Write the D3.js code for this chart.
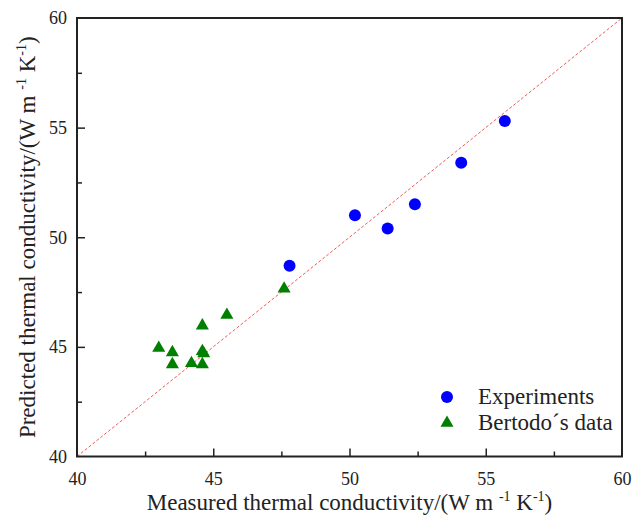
<!DOCTYPE html>
<html><head><meta charset="utf-8">
<script src="https://cdn.jsdelivr.net/npm/d3@7"></script>
<style>body{margin:0;background:#fff}svg{display:block}</style>
</head><body>
<script>
const expX = [47.8, 50.2, 51.4, 52.4, 54.1, 55.7];
const expY = [48.7, 51.0, 50.4, 51.5, 53.4, 55.3];
const berX = [43.0, 43.5, 43.5, 44.2, 44.6, 44.6, 44.65, 44.6, 45.5, 47.6];
const berY = [44.95, 44.75, 44.2, 44.25, 44.2, 44.8, 44.7, 45.97, 46.45, 47.65];
const xTicks = [40, 45, 50, 55, 60];
const yTicks = [40, 45, 50, 55, 60];
const legendLabels = ["Experiments", "Bertodo\u00B4s data"];

const FF = "'Liberation Serif', 'Times New Roman', serif";
const W = 642, H = 516;
const m = {l: 77, t: 18, r: 20, b: 59.5};
const svg = d3.select("body").append("svg").attr("width", W).attr("height", H);
const x = d3.scaleLinear().domain([40, 60]).range([m.l, W - m.r]);
const y = d3.scaleLinear().domain([40, 60]).range([H - m.b, m.t]);

svg.append("line").attr("x1", x(40)).attr("y1", y(40)).attr("x2", x(60)).attr("y2", y(60))
  .attr("stroke", "#f25a5a").attr("stroke-width", 1).attr("stroke-dasharray", "3,2");

svg.append("rect").attr("x", x(40)).attr("y", y(60)).attr("width", x(60) - x(40)).attr("height", y(40) - y(60))
  .attr("fill", "none").attr("stroke", "#222").attr("stroke-width", 2);

const minor = d3.range(40, 60.01, 2.5);
const gx = svg.append("g").attr("transform", `translate(0,${y(40)})`)
  .call(d3.axisBottom(x).tickValues(minor).tickSize(-8).tickFormat(d => xTicks.includes(d) ? d : "").tickPadding(16));
gx.attr("font-family", null).attr("font-size", null);
gx.select(".domain").remove();
gx.selectAll(".tick line").attr("stroke", "#222").attr("stroke-width", 1.5)
  .attr("y2", d => xTicks.includes(d) ? -8 : -5);
gx.selectAll(".tick text").style("font-size", "18px").style("font-family", FF).attr("fill", "#222");
gx.selectAll(".tick").filter(d => d === 40 || d === 60).select("line").remove();

const gy = svg.append("g").attr("transform", `translate(${x(40)},0)`)
  .call(d3.axisLeft(y).tickValues(minor).tickSize(-8).tickFormat(d => yTicks.includes(d) ? d : "").tickPadding(10));
gy.attr("font-family", null).attr("font-size", null);
gy.select(".domain").remove();
gy.selectAll(".tick line").attr("stroke", "#222").attr("stroke-width", 1.5)
  .attr("x2", d => yTicks.includes(d) ? 8 : 5);
gy.selectAll(".tick text").style("font-size", "18px").style("font-family", FF).attr("fill", "#222");
gy.selectAll(".tick").filter(d => d === 40 || d === 60).select("line").remove();

svg.append("g").selectAll("circle").data(expX).join("circle")
  .attr("cx", d => x(d)).attr("cy", (d, i) => y(expY[i])).attr("r", 6).attr("fill", "#0000ff");
const tri = d3.symbol().type(d3.symbolTriangle).size(74);
svg.append("g").selectAll("path").data(berX).join("path")
  .attr("d", tri).attr("transform", (d, i) => `translate(${x(d)},${y(berY[i])})`).attr("fill", "#008000");

const lx = 447, ly = [397, 423];
svg.append("circle").attr("cx", lx).attr("cy", ly[0]).attr("r", 6).attr("fill", "#0000ff");
svg.append("path").attr("d", tri).attr("transform", `translate(${lx},${ly[1]})`).attr("fill", "#008000");
legendLabels.forEach((t, i) => svg.append("text").attr("x", 478).attr("y", ly[i] + 7)
  .style("font-size", "23px").style("font-family", FF).attr("fill", "#222").text(t));

function title(sel, main) {
  sel.append("tspan").text(main + "/(W m ");
  sel.append("tspan").attr("dy", -9).style("font-size", "14px").text("-1");
  sel.append("tspan").attr("dy", 9).text(" K");
  sel.append("tspan").attr("dy", -9).style("font-size", "14px").text("-1");
  sel.append("tspan").attr("dy", 9).text(")");
}
const xt = svg.append("text").attr("x", (x(40) + x(60)) / 2).attr("y", 510).attr("text-anchor", "middle")
  .style("font-size", "23px").style("font-family", FF).attr("fill", "#222");
title(xt, "Measured thermal conductivity");
const yt = svg.append("text").attr("transform", `translate(35,${(y(40) + y(60)) / 2}) rotate(-90)`).attr("text-anchor", "middle")
  .style("font-size", "23px").style("font-family", FF).attr("fill", "#222");
title(yt, "Predicted thermal conductivity");
</script>
</body></html>
